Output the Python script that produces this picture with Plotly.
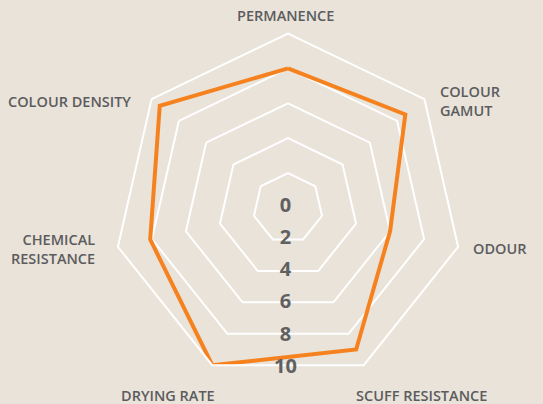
import math
import plotly.graph_objects as go

categories = ["PERMANENCE", "COLOUR<br>GAMUT", "ODOUR", "SCUFF RESISTANCE",
              "DRYING RATE", "CHEMICAL<br>RESISTANCE", "COLOUR DENSITY"]
values = [8, 8.6, 6, 9, 10, 8.1, 9.4]
radial_ticks = [0, 2, 4, 6, 8, 10]
r_max = 10

W, H = 543, 404
cx, cy, R = 288, 208, 174.5          # polygon centre and vertex radius (px)
n = len(categories)

# label placement style per category: (dx, dy) from vertex, xanchor, align
label_style = [
    (-2.5, -18.5, "center", "center"),
    (13.5, 1.3, "left", "left"),
    (12.6, 1.5, "left", "left"),
    (-9.5, 30.5, "left", "left"),
    (5.0, 30.5, "right", "right"),
    (-21.2, 1.7, "right", "right"),
    (-18.9, 2.5, "right", "right"),
]
TEXT_COLOR = "#5c5c5e"
NUM_SPREAD = 1.08   # radial number labels sit just outside each ring's lower edge

fig = go.Figure()
fig.add_trace(go.Scatterpolar(
    r=values + values[:1], theta=categories + categories[:1],
    mode="lines", line=dict(color="#f5821f", width=4), hoverinfo="skip",
    showlegend=False, subplot="polar"))

# radial tick labels, straight below the centre
fig.add_trace(go.Scatterpolar(
    r=radial_ticks, theta=[270] * len(radial_ticks),
    text=[str(t) for t in radial_ticks], mode="text",
    textfont=dict(size=20, weight=700, color="#606062", family="Open Sans"),
    textposition="middle center", hoverinfo="skip", showlegend=False,
    subplot="polar2"))

# category labels next to the polygon vertices
annotations = []
for i, (cat, (dx, dy, xa, al)) in enumerate(zip(categories, label_style)):
    a = 2 * math.pi * i / n
    vx = cx + R * math.sin(a)
    vy = cy - R * math.cos(a)
    annotations.append(dict(
        text=cat, x=(vx + dx) / W, y=(H - (vy + dy)) / H, xref="paper", yref="paper",
        xanchor=xa, yanchor="middle", align=al, showarrow=False,
        font=dict(family="Open Sans", size=14.5, weight=600, color=TEXT_COLOR)))

rx, ry = cx - 2.5, cy - 1.5
fig.update_layout(
    width=W, height=H, margin=dict(l=0, r=0, t=0, b=0),
    paper_bgcolor="#e9e3da", plot_bgcolor="#e9e3da",
    font=dict(family="Open Sans", color=TEXT_COLOR),
    annotations=annotations,
    polar=dict(
        domain=dict(x=[(cx - R) / W, (cx + R) / W],
                    y=[(H - cy - R) / H, (H - cy + R) / H]),
        bgcolor="rgba(0,0,0,0)",
        gridshape="linear",
        angularaxis=dict(rotation=90, direction="clockwise", showgrid=False,
                         showline=True, linecolor="white", linewidth=2,
                         ticks="", showticklabels=False),
        radialaxis=dict(range=[0, r_max], tickvals=radial_ticks, showline=False,
                        showticklabels=False, gridcolor="white", gridwidth=2,
                        ticks=""),
    ),
    polar2=dict(
        domain=dict(x=[(rx - R) / W, (rx + R) / W],
                    y=[(H - ry - R) / H, (H - ry + R) / H]),
        bgcolor="rgba(0,0,0,0)",
        angularaxis=dict(visible=False, showgrid=False, showline=False),
        radialaxis=dict(visible=False, range=[0, r_max * NUM_SPREAD],
                        showgrid=False, showline=False),
    ),
)
fig.write_html("out.html", config={"displayModeBar": False},
               post_script="document.body.style.margin='0px';")
